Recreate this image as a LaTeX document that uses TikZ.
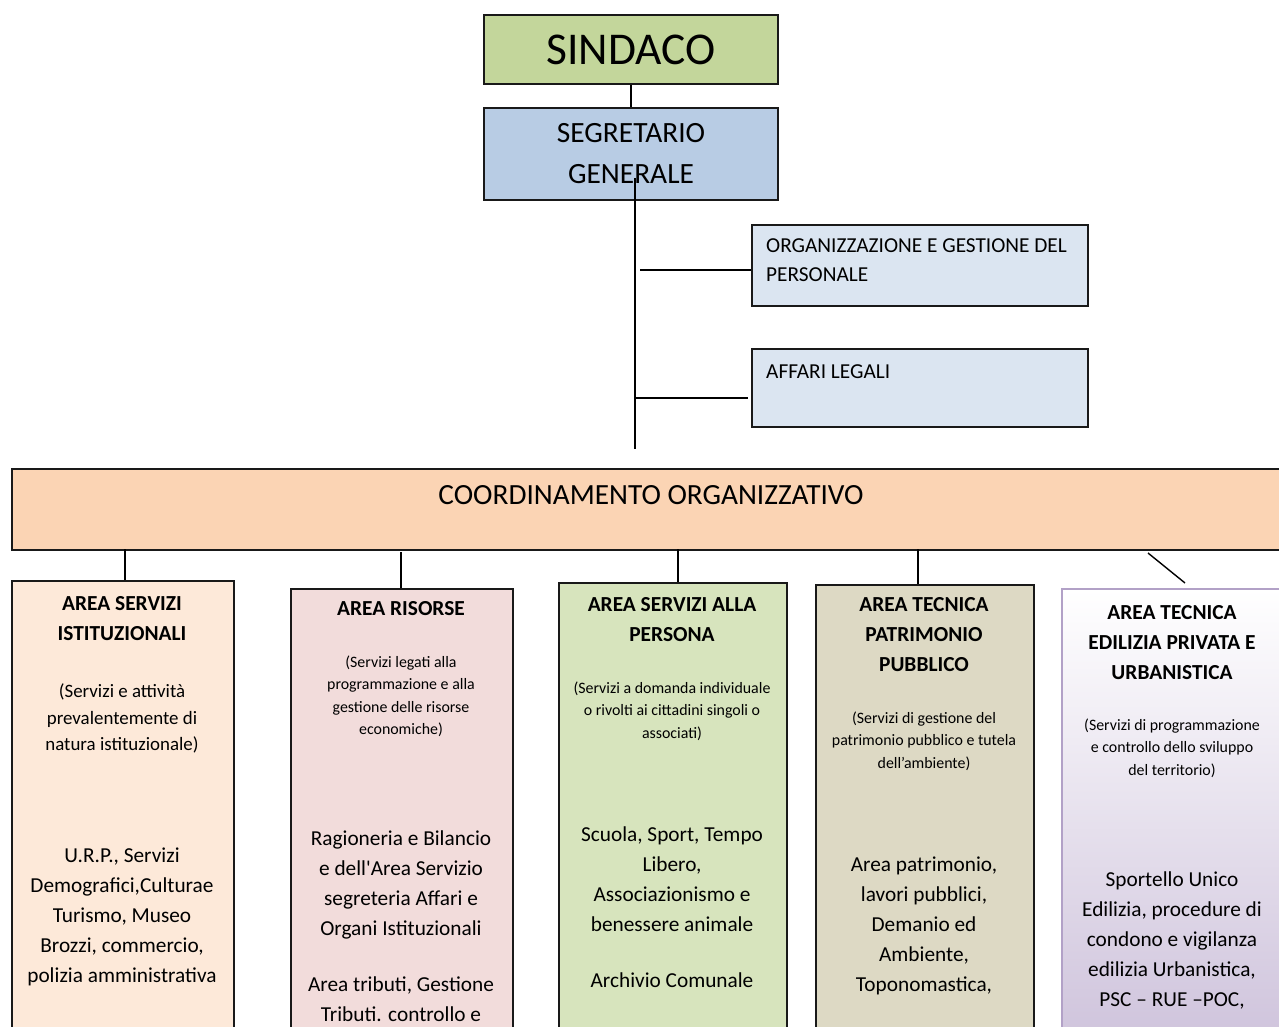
\documentclass[tikz,border=0pt]{standalone}
\usepackage{fontspec}
\setmainfont{Carlito}
\definecolor{sindaco}{HTML}{C3D69B}
\definecolor{segretario}{HTML}{B8CCE4}
\definecolor{staff}{HTML}{DBE5F1}
\definecolor{coord}{HTML}{FBD4B4}
\definecolor{istituz}{HTML}{FDE9D9}
\definecolor{risorse}{HTML}{F2DCDB}
\definecolor{persona}{HTML}{D7E4BD}
\definecolor{patrim}{HTML}{DDD9C4}
\definecolor{urban}{HTML}{CCC0DA}
\definecolor{urbanline}{HTML}{B2A1C7}
\tikzset{
	box/.style={draw=black!90, line width=1.5pt, inner sep=0pt, anchor=north west},
	link/.style={draw=black, line width=1.4pt},
	areatitle/.style={anchor=base, align=center, inner sep=0pt, font=\fontsize{21.4}{30}\selectfont\bfseries},
	areanote/.style={anchor=base, align=center, inner sep=0pt, font=\fontsize{15.9}{22.3}\selectfont},
	areabody/.style={anchor=base, align=center, inner sep=0pt, font=\fontsize{21.3}{30}\selectfont}
}
\begin{document}
\begin{tikzpicture}[x=1pt,y=-1pt]
		\useasboundingbox(0,0)rectangle(1279,1027);
		\clip(0,0)rectangle(1279,1027);
		% vertice
		\node[box,fill=sindaco,minimum width=294pt,minimum height=69pt,anchor=center,font=\fontsize{45.5}{50}\selectfont](sind)at(631,49.5){SINDACO};
		\node[box,fill=segretario,minimum width=294pt,minimum height=92pt,anchor=center,align=center,font=\fontsize{29.4}{41}\selectfont](segr)at(631,154){SEGRETARIO\\GENERALE};
		\node[box,fill=staff,minimum width=336pt,minimum height=81pt](org)at(751,224){};
		\node[anchor=base west,inner sep=0pt,align=left,font=\fontsize{21.3}{29}\selectfont](orgt)at(766,281.6){ORGANIZZAZIONE E GESTIONE DEL\\PERSONALE};
		\node[box,fill=staff,minimum width=336pt,minimum height=78pt](leg)at(751,348){};
		\node[anchor=base west,inner sep=0pt,font=\fontsize{21.3}{29}\selectfont](legt)at(766,378.6){AFFARI LEGALI};
		\draw[link](sind.south)--(segr.north);
		\coordinate(t1)at(635,178);
		\coordinate(t2)at(635,449);
		\coordinate(j1)at(640,270);
		\coordinate(j2)at(635,398);
		\draw[link](t1)--(t2);
		\draw[link](j1)--(org.west|-j1);
		\draw[link,shorten >=3pt](j2)--(leg.west|-j2);
		% coordinamento
		\node[box,fill=coord,minimum width=1290pt,minimum height=81pt](coo)at(11,468){};
		\node[anchor=base,inner sep=0pt,font=\fontsize{29.3}{35}\selectfont](coot)at(651,504){COORDINAMENTO ORGANIZZATIVO};
		% aree
		\node[box,fill=istituz,minimum width=222pt,minimum height=480pt](a1)at(11,580){};
		\node[box,fill=risorse,minimum width=222pt,minimum height=480pt](a2)at(290,588){};
		\node[box,fill=persona,minimum width=228pt,minimum height=480pt](a3)at(558,582){};
		\node[box,fill=patrim,minimum width=218pt,minimum height=480pt](a4)at(815,584){};
		\node[box,draw=urbanline,top color=white,bottom color=urban,minimum width=240pt,minimum height=480pt](a5)at(1061,588){};
		\coordinate(c1)at(125,549);
		\coordinate(c2)at(401,552);
		\coordinate(c3)at(678,549);
		\coordinate(c4)at(918,549);
		\coordinate(c5)at(1148,553);
		\coordinate(d5)at(1185,583);
		\draw[link](c1)--(c1|-a1.north);
		\draw[link](c2)--(c2|-a2.north);
		\draw[link](c3)--(c3|-a3.north);
		\draw[link](c4)--(c4|-a4.north);
		\draw[link](c5)--(d5);
		% testi delle aree (ancorati alla base dell'ultima riga)
		\node[areatitle](a1t)at(122,640.5){AREA SERVIZI\\ISTITUZIONALI};
		\node[areanote,font=\fontsize{18.9}{26.5}\selectfont](a1n)at(122,750.7){(Servizi e attività\\prevalentemente di\\natura istituzionale)};
		\node[areabody](a1b)at(122,982.5){U.R.P., Servizi\\Demografici,Culturae\\Turismo, Museo\\Brozzi, commercio,\\polizia amministrativa};
		\node[areatitle](a2t)at(401,615.5){AREA RISORSE};
		\node[areanote](a2n)at(401,734.5){(Servizi legati alla\\programmazione e alla\\gestione delle risorse\\economiche)};
		\node[areabody](a2b)at(401,1021.5){Ragioneria e Bilancio\\e dell\textquotesingle Area Servizio\\segreteria Affari e\\Organi Istituzionali\\[26pt]Area tributi, Gestione\\Tributi. controllo e};
		\node[areatitle](a3t)at(672,641.5){AREA SERVIZI ALLA\\PERSONA};
		\node[areanote](a3n)at(672,738.2){(Servizi a domanda individuale\\o rivolti ai cittadini singoli o\\associati)};
		\node[areabody](a3b)at(672,987.5){Scuola, Sport, Tempo\\Libero,\\Associazionismo e\\benessere animale\\[26pt]Archivio Comunale};
		\node[areatitle](a4t)at(924,671.5){AREA TECNICA\\PATRIMONIO\\PUBBLICO};
		\node[areanote](a4n)at(924,768.2){(Servizi di gestione del\\patrimonio pubblico e tutela\\dell’ambiente)};
		\node[areabody](a4b)at(924,991.5){Area patrimonio,\\lavori pubblici,\\Demanio ed\\Ambiente,\\Toponomastica,};
		\node[areatitle](a5t)at(1172,679.5){AREA TECNICA\\EDILIZIA PRIVATA E\\URBANISTICA};
		\node[areanote](a5n)at(1172,775.2){(Servizi di programmazione\\e controllo dello sviluppo\\del territorio)};
		\node[areabody](a5b)at(1172,1006.5){Sportello Unico\\Edilizia, procedure di\\condono e vigilanza\\edilizia Urbanistica,\\PSC – RUE –POC,};
	\end{tikzpicture}
\end{document}
